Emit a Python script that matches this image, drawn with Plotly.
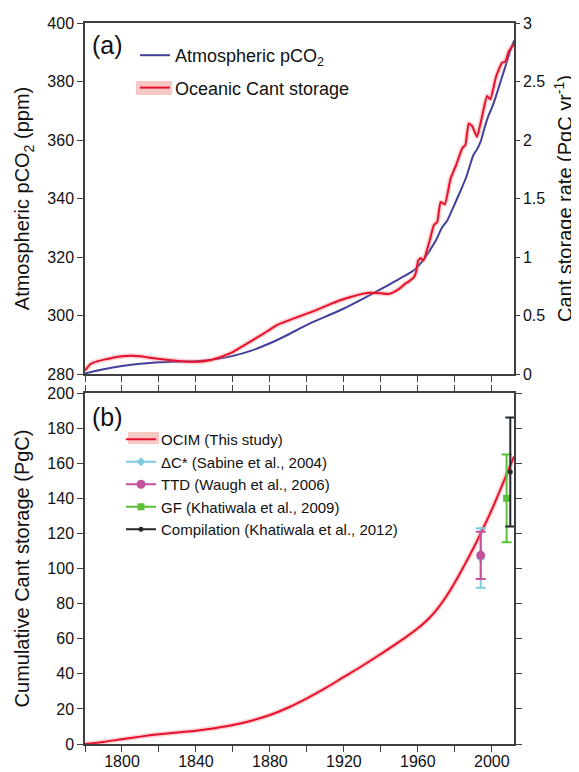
import plotly.graph_objects as go

# ---------------- data ----------------
PCO2_YEARS = [1780, 1790, 1800, 1810, 1820, 1830, 1840, 1850, 1860, 1870, 1880, 1890,
              1900, 1910, 1920, 1926, 1935, 1940, 1948, 1955, 1959, 1963, 1966, 1970,
              1973, 1976, 1980, 1983, 1986, 1988, 1990, 1992, 1994, 1996, 1998, 2000,
              2002, 2004, 2006, 2008, 2010, 2012]
PCO2_PPM = [280.2, 281.6, 282.7, 283.5, 284.0, 284.2, 284.4, 285.0, 286.2, 288.0, 290.5, 293.5,
            296.8, 299.6, 302.4, 304.3, 307.3, 309.0, 311.8, 314.3, 316.1, 319.0, 321.8, 326.0,
            330.0, 332.6, 338.2, 342.5, 347.0, 351.0, 354.8, 356.8, 359.5, 364.0, 368.0, 371.0,
            374.5, 378.5, 382.5, 386.5, 390.5, 394.0]

RATE_YEARS = [1780, 1783, 1787, 1791, 1798, 1805, 1810, 1816, 1825, 1834, 1841, 1848, 1855,
              1859, 1866, 1875, 1880, 1884, 1893, 1904, 1913, 1918, 1924, 1930, 1935, 1940,
              1944, 1947, 1950, 1953, 1955, 1958, 1959, 1960.2, 1961.5, 1963, 1966, 1968.7,
              1970.5, 1972.3, 1974.6, 1977.7, 1980.7, 1984, 1985.7, 1987.5, 1989.3, 1992,
              1994.7, 1997.4, 1999.2, 2002.3, 2005.5, 2007.3, 2009.1, 2010.9, 2012]
RATE_PGC = [0.03, 0.085, 0.11, 0.125, 0.148, 0.157, 0.152, 0.136, 0.12, 0.107, 0.105, 0.12, 0.155,
            0.18, 0.245, 0.33, 0.38, 0.42, 0.475, 0.54, 0.60, 0.63, 0.66, 0.685, 0.695, 0.69,
            0.684, 0.70, 0.73, 0.77, 0.79, 0.83, 0.87, 0.97, 0.99, 0.97, 1.117, 1.274,
            1.30, 1.47, 1.45, 1.67, 1.786, 1.929, 1.957, 2.142, 2.12, 2.028,
            2.199, 2.376, 2.348, 2.541, 2.661, 2.67, 2.755, 2.797, 2.82]

CUM_YEARS = [1780, 1790, 1800, 1810, 1820, 1830, 1840, 1850, 1860, 1870, 1880, 1890, 1900,
             1910, 1920, 1930, 1940, 1950, 1960, 1965, 1970, 1975, 1980, 1985, 1990, 1994,
             2000, 2005, 2010, 2012]
CUM_PGC = [0, 1.2, 2.7, 4.2, 5.5, 6.6, 7.6, 9.0, 10.8, 13.3, 16.5, 20.8, 26.0,
           31.8, 38.2, 44.6, 51.3, 58.3, 66.0, 70.5, 76.3, 83.5, 92.0, 101.5, 111.5, 120.0,
           133.5, 146.0, 158.8, 163.8]

OBS_NAMES = ["ΔC* (Sabine et al., 2004)", "TTD (Waugh et al., 2006)",
             "GF (Khatiwala et al., 2009)", "Compilation (Khatiwala et al., 2012)"]
OBS_YEARS = [1994, 1994, 2008, 2010]
OBS_VALUES = [106, 107.5, 140, 155]
OBS_ERRORS = [17, 13.5, 25, 31]

X_TICKS = [1780, 1800, 1820, 1840, 1860, 1880, 1900, 1920, 1940, 1960, 1980, 2000]
X_TICK_LABELS = ["", "1800", "", "1840", "", "1880", "", "1920", "", "1960", "", "2000"]

# ---------------- styles ----------------
FONT = "Liberation Sans, Arial, Helvetica, sans-serif"
BLUE = "#41409a"
RED = "#e8102c"
BAND = "rgba(240,120,120,0.35)"
BAND_LEGEND = "#f8c8c5"
OBS_COLORS = ["#7fcbe0", "#c4519b", "#5cbf3a", "#23292d"]
OBS_SYMBOLS = ["diamond", "circle", "square", "circle"]
OBS_SIZES = [7, 9, 7, 5]
AX = "#3f3f3f"

# the page body adds an 8 px offset; plot-area pixel frame of the picture
PX_L, PX_R, PX_T, PX_B = 85, 514, 23, 744
OFF = 8
W, H = 579 - OFF, 772 - OFF


def px(x):
    return (x - PX_L) / (PX_R - PX_L)


def py(y):
    return (PX_B - y) / (PX_B - PX_T)


fig = go.Figure()

# Panel (a)
fig.add_trace(go.Scatter(x=PCO2_YEARS, y=PCO2_PPM, mode="lines", name="Atmospheric pCO<sub>2</sub>",
                         line=dict(color=BLUE, width=2, shape="spline", smoothing=0.5),
                         xaxis="x", yaxis="y", legend="legend", legendgroup="a1"))
fig.add_trace(go.Scatter(x=RATE_YEARS, y=RATE_PGC, mode="lines", showlegend=False,
                         line=dict(color=BAND, width=5, shape="spline", smoothing=0.4),
                         xaxis="x", yaxis="y2", hoverinfo="skip", legendgroup="a2"))
fig.add_trace(go.Scatter(x=RATE_YEARS, y=RATE_PGC, mode="lines", name="Oceanic Cant storage",
                         line=dict(color=RED, width=2, shape="spline", smoothing=0.4),
                         xaxis="x", yaxis="y2", legend="legend", legendgroup="a2"))

# Panel (b)
fig.add_trace(go.Scatter(x=CUM_YEARS, y=CUM_PGC, mode="lines", showlegend=False,
                         line=dict(color=BAND, width=5, shape="spline"),
                         xaxis="x2", yaxis="y3", hoverinfo="skip", legend="legend2"))
fig.add_trace(go.Scatter(x=CUM_YEARS, y=CUM_PGC, mode="lines", name="OCIM (This study)",
                         line=dict(color=RED, width=2, shape="spline"),
                         xaxis="x2", yaxis="y3", legend="legend2"))
for i in range(len(OBS_NAMES)):
    fig.add_trace(go.Scatter(
        x=[OBS_YEARS[i]], y=[OBS_VALUES[i]], mode="lines+markers", name=OBS_NAMES[i],
        line=dict(color=OBS_COLORS[i], width=2),
        marker=dict(color=OBS_COLORS[i], symbol=OBS_SYMBOLS[i], size=OBS_SIZES[i]),
        error_y=dict(type="data", array=[OBS_ERRORS[i]], visible=True,
                     color=OBS_COLORS[i], thickness=2, width=5),
        xaxis="x2", yaxis="y3", legend="legend2"))

axis_common = dict(showline=True, linecolor=AX, linewidth=1.5, ticks="outside",
                   tickcolor=AX, tickwidth=1.2, showgrid=False, zeroline=False,
                   tickfont=dict(size=16, color="#111", family=FONT))

fig.update_layout(
    width=W, height=H,
    margin=dict(l=PX_L - OFF, r=W - (PX_R - OFF), t=PX_T - OFF, b=H - (PX_B - OFF), autoexpand=False),
    paper_bgcolor="white", plot_bgcolor="white",
    font=dict(family=FONT, color="#111", size=16),
    xaxis=dict(domain=[0, 1], anchor="y", range=[1780, 2012], tickvals=X_TICKS,
               showticklabels=False, ticklen=6, mirror=True, **axis_common),
    yaxis=dict(domain=[py(374), 1], anchor="x", range=[280, 400], dtick=20, ticklen=6,
               title=dict(text="Atmospheric pCO<sub>2</sub> (ppm)", font=dict(size=20), standoff=12),
               **axis_common),
    yaxis2=dict(overlaying="y", side="right", anchor="x", range=[0, 3], dtick=0.5, ticklen=4,
                title=dict(text="Cant storage rate (PgC yr<sup>-1</sup>)", font=dict(size=20), standoff=14),
                **axis_common),
    xaxis2=dict(domain=[0, 1], anchor="y3", range=[1780, 2012], tickvals=X_TICKS,
                ticktext=X_TICK_LABELS, ticklen=6, mirror="ticks", ticklabelstandoff=-4,
                **axis_common),
    yaxis3=dict(domain=[0, py(393)], anchor="x2", range=[0, 200], dtick=20, ticklen=6,
                mirror="ticks",
                title=dict(text="Cumulative Cant storage (PgC)", font=dict(size=20), standoff=12),
                **axis_common),
    legend=dict(x=px(135), y=py(37), xanchor="left", yanchor="top",
                bgcolor="rgba(0,0,0,0)", font=dict(size=18), tracegroupgap=6,
                traceorder="grouped"),
    legend2=dict(x=px(121), y=py(423), xanchor="left", yanchor="top",
                 bgcolor="rgba(0,0,0,0)", font=dict(size=15), tracegroupgap=0,
                 traceorder="normal"),
    shapes=[
        dict(type="rect", xref="paper", yref="paper", x0=px(136), x1=px(172), y0=py(95), y1=py(81),
             fillcolor=BAND_LEGEND, line=dict(width=0), layer="above"),
        dict(type="rect", xref="paper", yref="paper", x0=px(128), x1=px(159), y0=py(444), y1=py(432),
             fillcolor=BAND_LEGEND, line=dict(width=0), layer="above"),
    ],
    annotations=[
        dict(text="(a)", xref="paper", yref="paper", x=0.012, y=py(45),
             xanchor="left", yanchor="middle", showarrow=False, font=dict(size=25)),
        dict(text="(b)", xref="paper", yref="paper", x=0.012, y=py(417),
             xanchor="left", yanchor="middle", showarrow=False, font=dict(size=25)),
    ],
)

fig.write_html("out.html")
